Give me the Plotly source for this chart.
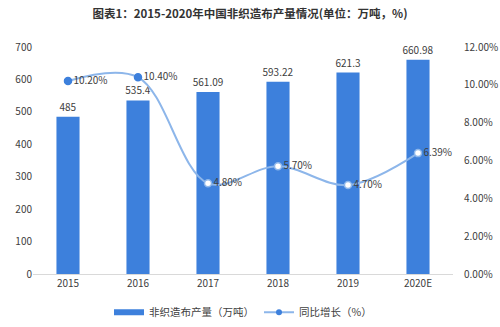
import plotly.graph_objects as go

years = ["2015", "2016", "2017", "2018", "2019", "2020E"]
output_wt = [485, 535.4, 561.09, 593.22, 621.3, 660.98]
output_labels = ["485", "535.4", "561.09", "593.22", "621.3", "660.98"]
growth_pct = [10.20, 10.40, 4.80, 5.70, 4.70, 6.39]
left_ticks = [0, 100, 200, 300, 400, 500, 600, 700]
right_ticks = [0, 2, 4, 6, 8, 10, 12]

FONT = "Noto Sans CJK SC, Microsoft YaHei, sans-serif"
BAR_COLOR = "#3d80dc"
LINE_COLOR = "#8db6ea"
TEXT_COLOR = "#404040"

fig = go.Figure()

fig.add_trace(go.Bar(
    x=years, y=output_wt, name="非织造布产量（万吨）",
    marker=dict(color=BAR_COLOR, line=dict(width=0)),
    width=0.33, showlegend=False, legendgroup="bar",
    text=output_labels, textposition="outside", cliponaxis=False,
    constraintext="none",
    textfont=dict(size=10, color=TEXT_COLOR, family=FONT),
))

# legend swatch for the bars: a thick short line reads as a wide rectangle
fig.add_trace(go.Scatter(
    x=[None], y=[None], mode="lines", name="非织造布产量（万吨）",
    line=dict(color=BAR_COLOR, width=6), legendgroup="bar",
))

marker_fill = ["#3d80dc", "#3d80dc", "white", "white", "white", "white"]
marker_line = ["#3d80dc", "#3d80dc", LINE_COLOR, LINE_COLOR, LINE_COLOR, LINE_COLOR]
fig.add_trace(go.Scatter(
    x=years, y=growth_pct, name="同比增长（%）", yaxis="y2",
    mode="lines+markers+text", showlegend=False, legendgroup="line",
    line=dict(color=LINE_COLOR, width=2, shape="spline", smoothing=1.0),
    marker=dict(size=7, color=marker_fill, line=dict(color=marker_line, width=1.5)),
    text=[f"{v:.2f}%" for v in growth_pct], textposition="middle right",
    textfont=dict(size=10, color=TEXT_COLOR, family=FONT),
    cliponaxis=False,
))

# legend entry for the growth line with a small dot
fig.add_trace(go.Scatter(
    x=[None], y=[None], mode="lines+markers", name="同比增长（%）", legendgroup="line",
    line=dict(color=LINE_COLOR, width=2),
    marker=dict(size=6, color="#3d80dc"),
))

fig.update_layout(
    width=500, height=327,
    margin=dict(l=33, r=47, t=47, b=53, autoexpand=False),
    paper_bgcolor="white", plot_bgcolor="white",
    font=dict(family=FONT, size=10, color=TEXT_COLOR),
    title=dict(text="<b>图表1：2015-2020年中国非织造布产量情况(单位：万吨，%)</b>",
               x=0.5, xanchor="center", y=0.957, yanchor="middle",
               font=dict(size=11.5, color="#333333", family=FONT)),
    showlegend=True,
    legend=dict(orientation="h", x=0.5, xanchor="center",
                yref="container", y=0.045, yanchor="middle",
                font=dict(size=10.5, color=TEXT_COLOR, family=FONT),
                itemwidth=30, traceorder="normal", itemsizing="trace"),
    xaxis=dict(showline=True, linecolor="#d9d9d9", linewidth=1, ticks="",
               tickfont=dict(size=10, color=TEXT_COLOR)),
    yaxis=dict(range=[0, 700], tickvals=left_ticks, showgrid=False, zeroline=False,
               showline=False, ticks="", tickfont=dict(size=10, color=TEXT_COLOR)),
    yaxis2=dict(range=[0, 12], tickvals=right_ticks,
                ticktext=[f"{v:.2f}%" for v in right_ticks],
                overlaying="y", side="right", showgrid=False, zeroline=False,
                showline=False, ticks="", ticklabelstandoff=10,
                tickfont=dict(size=10, color=TEXT_COLOR)),
)

fig.write_html("out.html")
